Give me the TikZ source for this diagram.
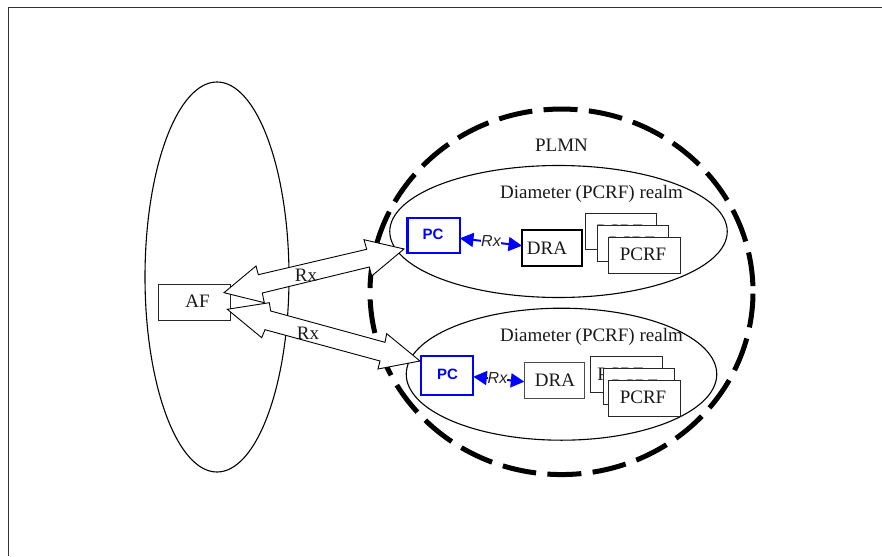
\documentclass[tikz,border=0pt]{standalone}
\usepackage{fontspec}
\setmainfont{Liberation Serif}
\setsansfont{Liberation Sans}
\usetikzlibrary{arrows.meta,shapes.geometric}
\tikzset{
  oval/.style={ellipse,draw=black,line width=1.1pt,inner sep=0pt,outer sep=0pt},
  boxn/.style={rectangle,draw=black!85,line width=1pt,fill=white,inner sep=0pt,outer sep=0pt},
  pcbox/.style={rectangle,draw=blue,line width=2.2pt,fill=white,inner sep=0pt,outer sep=0pt},
  pctext/.style={inner sep=0pt,font=\fontsize{15}{15}\sffamily\bfseries,text=blue},
  lbl/.style={inner sep=0pt,font=\fontsize{19}{20}\selectfont,text=black!90},
  rxs/.style={inner sep=0pt,fill=white,font=\fontsize{16}{16}\sffamily\itshape,text=black!85},
  blockarrow/.style={draw=black,line width=0.9pt,fill=white,line join=miter},
  bluearrow/.style={draw=blue,line width=2pt,{Triangle[length=13.5pt,width=14pt]}-{Triangle[length=13.5pt,width=14pt]}}
}
\begin{document}
\begin{tikzpicture}[x=1pt,y=-1pt]
\useasboundingbox (0,0) rectangle (882,556);
\fill[white] (0,0) rectangle (882,556);
\coordinate (frameA) at (882,7.5);
\coordinate (frameB) at (8.5,7.5);
\coordinate (frameC) at (8.5,556);
\draw[black!80,line width=0.9pt] (frameA) -- (frameB) -- (frameC);

\node[oval,minimum width=144pt,minimum height=390pt] (domain) at (217,277) {};
\node[oval,minimum width=337.5pt,minimum height=132pt] (realmA) at (558.5,231.5) {};
\node[oval,minimum width=310.5pt,minimum height=132pt] (realmB) at (561.5,374.2) {};
\node[ellipse,draw=black,line width=5pt,dash pattern=on 34pt off 11.38pt,dash phase=39.7pt,inner sep=0pt,outer sep=0pt,
      minimum width=383pt,minimum height=365.5pt] (plmn) at (561.5,291.8) {};

\node[boxn,minimum width=71.7pt,minimum height=36pt] (af) at (194.2,302.3) {};
\node[lbl] (aftext) at (197.5,301.7) {AF};

% block arrows
\coordinate (ua1) at (224,292.7);
\coordinate (ua2) at (256,266);
\coordinate (ua3) at (258.3,274.7);
\coordinate (ua4) at (366.7,249.3);
\coordinate (ua5) at (364,239.7);
\coordinate (ua6) at (404,249);
\coordinate (ua7) at (371.7,276);
\coordinate (ua8) at (369.3,267);
\coordinate (ua9) at (262.3,293);
\coordinate (ua10) at (264.3,302.7);
\draw[blockarrow] (ua1)--(ua2)--(ua3)--(ua4)--(ua5)--(ua6)--(ua7)--(ua8)--(ua9)--(ua10)--cycle;
\coordinate (la1) at (227.3,309.3);
\coordinate (la2) at (269.3,302.7);
\coordinate (la3) at (270.7,311);
\coordinate (la4) at (385,342.3);
\coordinate (la5) at (386.7,333.7);
\coordinate (la6) at (420,361);
\coordinate (la7) at (378,369);
\coordinate (la8) at (380,361);
\coordinate (la9) at (265,329.7);
\coordinate (la10) at (261.7,337.7);
\draw[blockarrow] (la1)--(la2)--(la3)--(la4)--(la5)--(la6)--(la7)--(la8)--(la9)--(la10)--cycle;
\node[lbl] (rxu) at (306,275) {Rx};
\node[lbl] (rxl) at (308,333) {Rx};

\node[lbl] (plmntext) at (561.5,145.5) {PLMN};
\node[lbl] (dtA) at (591.5,194) {Diameter (PCRF) realm};
\node[lbl] (dtB) at (591.5,337) {Diameter (PCRF) realm};

% upper realm
\node[pcbox,minimum width=52.5pt,minimum height=35pt] (pcA) at (433.7,235.8) {};
\node[pctext] (pcAt) at (433,234.3) {PC};
\node[boxn,draw=black,line width=1.8pt,minimum width=60pt,minimum height=36pt] (draA) at (552,248) {};
\node[lbl] (draAt) at (547,248) {DRA};
\node[boxn,minimum width=71.4pt,minimum height=36pt] (pcA1) at (621,231.3) {};
\node[lbl] (pcA1t) at (620,231) {PCRF};
\node[boxn,minimum width=71.4pt,minimum height=36pt] (pcA2) at (633,243.3) {};
\node[lbl] (pcA2t) at (632,243) {PCRF};
\node[boxn,minimum width=71.7pt,minimum height=36.3pt] (pcA3) at (644.8,255.2) {};
\node[lbl] (pcA3t) at (643,254) {PCRF};
\draw[bluearrow] (pcA.east |- 0,238.3) -- (draA.west |- 0,245.7);
\node[rxs] (rxA) at (491,240.7) {Rx};

% lower realm
\node[pcbox,minimum width=52.3pt,minimum height=39.3pt] (pcB) at (447.2,375.3) {};
\node[pctext] (pcBt) at (447.5,374) {PC};
\node[boxn,draw=black!70,minimum width=60pt,minimum height=36pt] (draB) at (554.3,380.7) {};
\node[lbl] (draBt) at (555,380) {DRA};
\node[boxn,minimum width=71.7pt,minimum height=35.6pt] (pcB1) at (626.8,374.5) {};
\node[lbl] (pcB1t) at (620.5,374) {PCRF};
\node[boxn,minimum width=71.4pt,minimum height=36pt] (pcB2) at (639,386.3) {};
\node[lbl] (pcB2t) at (635,386) {PCRF};
\node[boxn,minimum width=71.7pt,minimum height=36.3pt] (pcB3) at (644.8,398.2) {};
\node[lbl] (pcB3t) at (643,397) {PCRF};
\draw[bluearrow] (pcB.east |- 0,376.7) -- (draB.west |- 0,381.7);
\node[rxs] (rxB) at (497.5,378) {Rx};
\end{tikzpicture}
\end{document}
